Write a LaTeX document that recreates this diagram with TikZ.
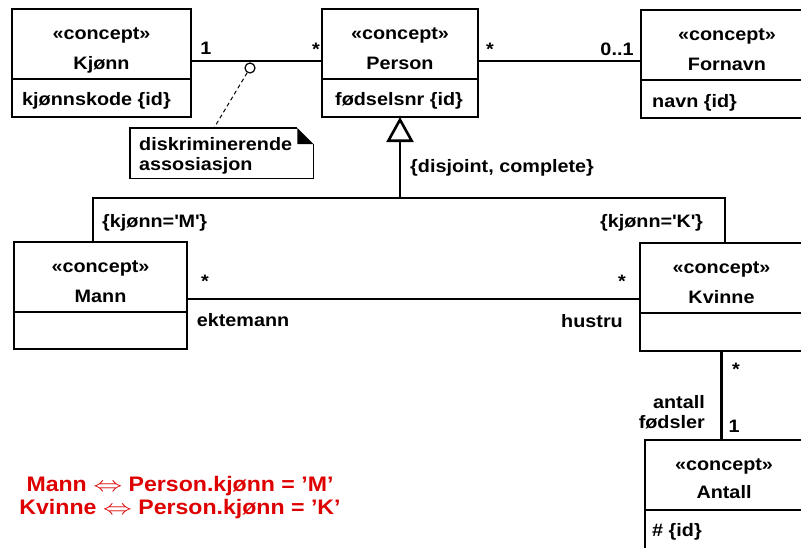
\documentclass[tikz,border=0pt]{standalone}
\usepackage{fontspec}
\setmainfont{Liberation Sans}[FakeStretch=1.1]
\usepackage{graphicx}
\usetikzlibrary{positioning,calc,arrows.meta}
\definecolor{rulered}{RGB}{222,0,0}
\tikzset{
conceptbox/.style={rectangle,draw=black,line width=2.6pt,anchor=north west,inner sep=0pt,outer sep=0pt},
conceptname/.style={anchor=base,align=center,inner sep=0pt,font=\bfseries\fontsize{18}{30}\selectfont},
conceptattr/.style={anchor=base west,inner sep=0pt,font=\bfseries\fontsize{18}{22}\selectfont},
conceptdiv/.style={line width=1.2pt},
assoc/.style={line width=2.6pt},
multlabel/.style={anchor=base,inner sep=0pt,font=\bfseries\fontsize{18}{20}\selectfont},
notebox/.style={rectangle,anchor=north west,inner sep=0pt,minimum width=183pt,minimum height=50pt},
noteline/.style={line width=1.2pt},
notelink/.style={line width=1pt,dash pattern=on 4pt off 3pt},
discnode/.style={circle,draw=black,line width=1.2pt,fill=white,minimum size=10pt,inner sep=0pt},
ruletext/.style={align=center,inner sep=0pt,text=rulered,font=\bfseries\fontsize{21}{23}\selectfont}
}
\begin{document}
\begin{tikzpicture}[x=1pt,y=-1pt]
\useasboundingbox (0,0) rectangle (801,547);
\clip (0,0) rectangle (801,547);
% concept boxes
\node[conceptbox,minimum width=179pt,minimum height=108pt] (kjonn) at (12,9) {};
\node[conceptbox,minimum width=156pt,minimum height=108pt] (person) at (322,9) {};
\node[conceptbox,minimum width=172pt,minimum height=108pt] (fornavn) at (641,10) {};
\node[conceptbox,minimum width=173pt,minimum height=107pt] (mann) at (14,242) {};
\node[conceptbox,minimum width=163pt,minimum height=108pt] (kvinne) at (640,243) {};
\node[conceptbox,minimum width=158pt,minimum height=120pt] (antall) at (645,440) {};
\foreach \c in {kjonn,person,fornavn,mann,kvinne,antall}
  \draw[conceptdiv] ($(\c.north west)+(0,70)$) -- ($(\c.north east)+(0,70)$);
\node[conceptname] (kjonn-t) at ($(kjonn.north)+(0,60)$) {«concept»\\Kjønn};
\node[conceptname] (person-t) at ($(person.north)+(0,60)$) {«concept»\\Person};
\node[conceptname] (fornavn-t) at ($(fornavn.north)+(0,60)$) {«concept»\\Fornavn};
\node[conceptname] (mann-t) at ($(mann.north)+(0,60)$) {«concept»\\Mann};
\node[conceptname] (kvinne-t) at ($(kvinne.north)+(0,60)$) {«concept»\\Kvinne};
\node[conceptname,font=\bfseries\fontsize{18}{28}\selectfont] (antall-t) at ($(antall.north)+(0,58)$) {«concept»\\Antall};
\node[conceptattr] (kjonn-a) at ($(kjonn.south west)+(10,-12)$) {kjønnskode \{id\}};
\node[conceptattr] (person-a) at ($(person.south west)+(13,-12)$) {fødselsnr \{id\}};
\node[conceptattr] (fornavn-a) at ($(fornavn.south west)+(11,-11)$) {navn \{id\}};
\node[conceptattr] (antall-a) at ($(antall.north west)+(7,96)$) {\# \{id\}};
% note
\node[notebox] (note) at (130,128) {};
\draw[noteline] ($(note.north east)+(-16,0)$) -- (note.north west) -- (note.south west)
  -- (note.south east) -- ($(note.north east)+(0,16)$);
\fill ($(note.north east)+(-16,0)$) -- ($(note.north east)+(0,16)$) -- ($(note.north east)+(-16,16)$) -- cycle;
\node[conceptattr,align=left,font=\bfseries\fontsize{18}{20}\selectfont] (note-t) at ($(note.north west)+(9,42)$) {diskriminerende\\assosiasjon};
\node[discnode] (disc) at (250,68) {};
\draw[notelink] (disc) -- ($(note.north west)+(84,0)$);
% associations
\draw[assoc] ($(kjonn.east)+(0,-2)$) -- ($(kjonn.east -| person.west)+(0,-2)$);
\draw[assoc] ($(person.east)+(0,-2)$) -- ($(person.east -| fornavn.west)+(0,-2)$);
\draw[assoc] ($(mann.east)+(0,3.5)$) -- ($(mann.east -| kvinne.west)+(0,3.5)$);
\draw[assoc] (kvinne.south) -- (kvinne.south |- antall.north);
\node[multlabel] (m1) at (206,54) {1};
\node[multlabel] (m2) at (316,55) {*};
\node[multlabel] (m3) at (490,55) {*};
\node[multlabel] (m4) at (617,55) {0..1};
\node[multlabel] (m5) at (205,287) {*};
\node[multlabel] (m6) at (622,287) {*};
\node[multlabel] (r1) at (243,326) {ektemann};
\node[multlabel] (r2) at (592,327) {hustru};
\node[multlabel] (m7) at (736,375) {*};
\node[multlabel] (m8) at (734,432) {1};
\node[multlabel,anchor=base east,align=right] (r3) at (705,428) {antall\\fødsler};
% generalization
\coordinate (genjoin) at (400,198);
\draw[assoc] ($(mann.north west)+(79,0)$) |- (genjoin) -| ($(kvinne.north west)+(85,0)$);
\draw[assoc,-{Triangle[open,length=25pt,width=27pt]}] (genjoin) -- (person.south);
\node[multlabel,anchor=base west] (gen-c) at (410,172) {\{disjoint, complete\}};
\node[multlabel,anchor=base west] (gen-m) at (102,227) {\{kjønn=\textquotesingle M\textquotesingle\}};
\node[multlabel,anchor=base east] (gen-k) at (703,227) {\{kjønn=\textquotesingle K\textquotesingle\}};
% rule
\node[ruletext] (rules) at (180,498) {Mann \scalebox{1.4}[1]{$\Leftrightarrow$} Person.kjønn = ’M’\\Kvinne \scalebox{1.4}[1]{$\Leftrightarrow$} Person.kjønn = ’K’};
\end{tikzpicture}
\end{document}
